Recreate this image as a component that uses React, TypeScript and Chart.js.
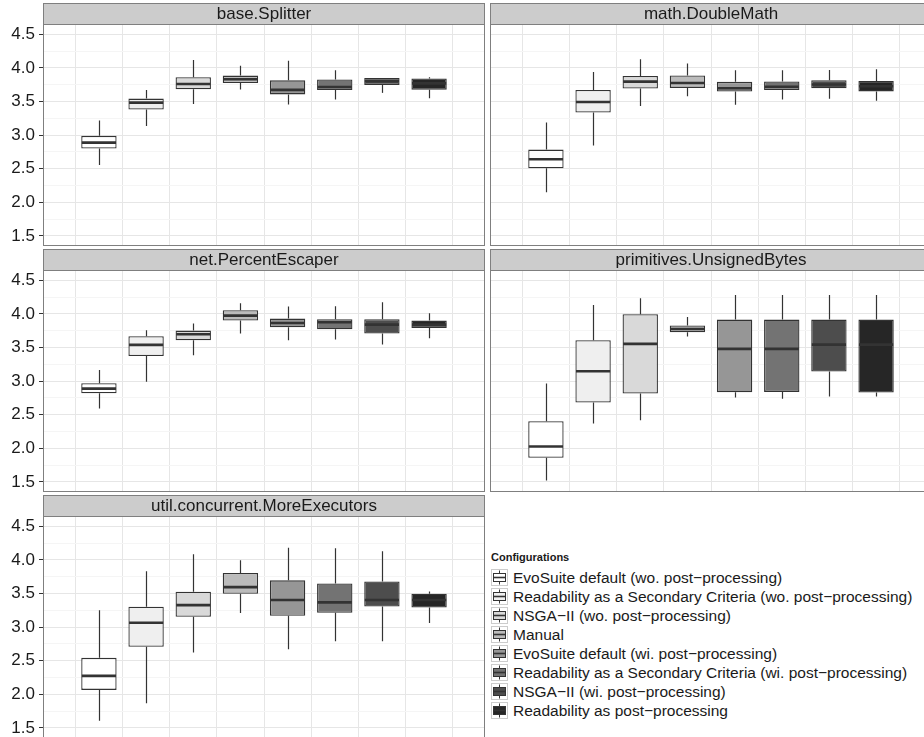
import React, { useEffect, useRef } from "react";
import { Chart, registerables } from "chart.js";

Chart.register(...registerables);
Chart.defaults.font.family = "'Liberation Sans', Arial, Helvetica, sans-serif";

// ---------- data ----------
const configurations = [
  "EvoSuite default (wo. post\u2212processing)",
  "Readability as a Secondary Criteria (wo. post\u2212processing)",
  "NSGA\u2212II (wo. post\u2212processing)",
  "Manual",
  "EvoSuite default (wi. post\u2212processing)",
  "Readability as a Secondary Criteria (wi. post\u2212processing)",
  "NSGA\u2212II (wi. post\u2212processing)",
  "Readability as post\u2212processing",
];
const legendTitle = "Configurations";
const fillColors = ["#FFFFFF", "#EFEFEF", "#D9D9D9", "#BBBBBB", "#969696", "#737373", "#4D4D4D", "#262626"];

// each entry: [min, q1, median, q3, max]
const baseSplitter = [
  [2.556, 2.799, 2.888, 2.988, 3.216],
  [3.136, 3.379, 3.483, 3.543, 3.672],
  [3.464, 3.682, 3.761, 3.860, 4.118],
  [3.680, 3.775, 3.830, 3.885, 4.030],
  [3.455, 3.605, 3.672, 3.814, 4.105],
  [3.530, 3.670, 3.715, 3.826, 3.965],
  [3.628, 3.747, 3.800, 3.849, 3.849],
  [3.549, 3.675, 3.770, 3.841, 3.860],
];
const mathDoubleMath = [
  [2.150, 2.507, 2.641, 2.784, 3.186],
  [2.844, 3.335, 3.493, 3.672, 3.940],
  [3.434, 3.693, 3.795, 3.878, 4.128],
  [3.576, 3.702, 3.774, 3.888, 4.066],
  [3.452, 3.648, 3.697, 3.792, 3.965],
  [3.529, 3.670, 3.720, 3.799, 3.965],
  [3.539, 3.695, 3.752, 3.816, 3.967],
  [3.509, 3.650, 3.727, 3.806, 3.980],
];
const netPercentEscaper = [
  [2.591, 2.819, 2.888, 2.968, 3.166],
  [2.988, 3.374, 3.538, 3.667, 3.756],
  [3.384, 3.607, 3.697, 3.751, 3.855],
  [3.707, 3.900, 3.974, 4.054, 4.158],
  [3.607, 3.801, 3.865, 3.930, 4.108],
  [3.617, 3.771, 3.875, 3.920, 4.113],
  [3.543, 3.707, 3.840, 3.920, 4.173],
  [3.637, 3.791, 3.840, 3.900, 4.009],
];
const primitivesUnsignedBytes = [
  [1.520, 1.857, 2.026, 2.403, 2.963],
  [2.368, 2.680, 3.146, 3.607, 4.133],
  [2.417, 2.814, 3.553, 3.994, 4.232],
  [3.662, 3.726, 3.776, 3.826, 3.955],
  [2.755, 2.834, 3.479, 3.915, 4.282],
  [2.735, 2.839, 3.479, 3.915, 4.282],
  [2.770, 3.141, 3.543, 3.915, 4.282],
  [2.770, 2.829, 3.543, 3.915, 4.282],
];
const utilConcurrentMoreExecutors = [
  [1.607, 2.065, 2.273, 2.542, 3.252],
  [1.866, 2.706, 3.064, 3.302, 3.829],
  [2.621, 3.153, 3.327, 3.526, 4.083],
  [3.208, 3.496, 3.595, 3.804, 3.993],
  [2.671, 3.168, 3.402, 3.695, 4.182],
  [2.790, 3.213, 3.367, 3.650, 4.172],
  [2.790, 3.307, 3.402, 3.680, 4.127],
  [3.059, 3.292, 3.402, 3.496, 3.531],
];
const yMajorTicks = [1.5, 2.0, 2.5, 3.0, 3.5, 4.0, 4.5];
const yMinorTicks = [1.75, 2.25, 2.75, 3.25, 3.75, 4.25];

const panelNames = [
  "base.Splitter",
  "math.DoubleMath",
  "net.PercentEscaper",
  "primitives.UnsignedBytes",
  "util.concurrent.MoreExecutors",
];
const panelStats = [baseSplitter, mathDoubleMath, netPercentEscaper, primitivesUnsignedBytes, utilConcurrentMoreExecutors];

// ---------- layout ----------
const Y_MIN = 1.349;
const Y_MAX = 4.653;
const STRIP_H = 21;
const PANEL_W = 442;
const PANEL_H = 222;
const AXIS_W = 43;
const ROW_TOPS = [3, 249, 495];
const RIGHT_COL_LEFT = 490;
const FONT = "'Liberation Sans', Arial, Helvetica, sans-serif";

function makeChart(canvas: HTMLCanvasElement, name: string, stats: number[][], showY: boolean) {
  const idx = stats.map((_, i) => i);
  const yTickValues = [...yMajorTicks, ...yMinorTicks].sort((a, b) => a - b);
  const isMajor = (v: number) => yMajorTicks.some((m) => Math.abs(m - v) < 1e-6);

  const stripPlugin = {
    id: "strip",
    beforeDraw(chart: any) {
      const { ctx, chartArea } = chart;
      ctx.save();
      ctx.fillStyle = "#CCCCCC";
      ctx.fillRect(chartArea.left, chartArea.top - STRIP_H, chartArea.right - chartArea.left, STRIP_H);
      ctx.fillStyle = "#FFFFFF";
      ctx.fillRect(chartArea.left, chartArea.top, chartArea.right - chartArea.left, chartArea.bottom - chartArea.top);
      ctx.strokeStyle = "#7F7F7F";
      ctx.lineWidth = 1;
      ctx.strokeRect(chartArea.left + 0.5, chartArea.top - STRIP_H + 0.5, chartArea.right - chartArea.left - 1, STRIP_H);
      ctx.fillStyle = "#1A1A1A";
      ctx.font = `17px ${FONT}`;
      ctx.textAlign = "center";
      ctx.textBaseline = "middle";
      ctx.fillText(name, (chartArea.left + chartArea.right) / 2, chartArea.top - STRIP_H / 2 + 1);
      ctx.restore();
    },
    afterDraw(chart: any) {
      const { ctx, chartArea } = chart;
      ctx.save();
      ctx.strokeStyle = "#7F7F7F";
      ctx.lineWidth = 1;
      ctx.strokeRect(chartArea.left + 0.5, chartArea.top + 0.5, chartArea.right - chartArea.left - 1, chartArea.bottom - chartArea.top - 1);
      ctx.restore();
    },
  };

  const boxPlugin = {
    id: "boxWhiskers",
    afterDatasetsDraw(chart: any) {
      const { ctx, chartArea } = chart;
      const xs = chart.scales.x;
      const ys = chart.scales.y;
      const meta = chart.getDatasetMeta(0);
      ctx.save();
      ctx.beginPath();
      ctx.rect(chartArea.left, chartArea.top, chartArea.right - chartArea.left, chartArea.bottom - chartArea.top);
      ctx.clip();
      stats.forEach((s, i) => {
        const el: any = meta.data[i];
        const x = Math.round(xs.getPixelForValue(i)) + 0.5;
        const half = el.width / 2;
        ctx.strokeStyle = "#333333";
        ctx.lineWidth = 1.2;
        ctx.beginPath();
        ctx.moveTo(x, ys.getPixelForValue(s[4]));
        ctx.lineTo(x, ys.getPixelForValue(s[3]));
        ctx.moveTo(x, ys.getPixelForValue(s[1]));
        ctx.lineTo(x, ys.getPixelForValue(s[0]));
        ctx.stroke();
        const my = ys.getPixelForValue(s[2]);
        ctx.lineWidth = 2.6;
        ctx.beginPath();
        ctx.moveTo(el.x - half + 0.6, my);
        ctx.lineTo(el.x + half - 0.6, my);
        ctx.stroke();
      });
      ctx.restore();
    },
  };

  return new Chart(canvas, {
    type: "bar",
    data: {
      datasets: [
        {
          label: name,
          data: stats.map((s, i) => ({ x: i, y: [s[1], s[3]] })) as any,
          backgroundColor: fillColors,
          borderColor: "#333333",
          borderWidth: 1.3,
          borderSkipped: false,
          barPercentage: 0.75,
          categoryPercentage: 1,
        } as any,
      ],
    },
    options: {
      animation: false,
      responsive: false,
      devicePixelRatio: 1,
      events: [],
      layout: { padding: { top: STRIP_H, right: 1, bottom: 1, left: showY ? 0 : 1 } },
      plugins: {
        legend: { display: false },
        tooltip: { enabled: false },
        title: { display: false },
      },
      scales: {
        x: {
          type: "linear",
          min: -0.6,
          max: 7.6,
          afterBuildTicks: (s: any) => {
            s.ticks = idx.map((v) => ({ value: v }));
          },
          afterFit: (s: any) => {
            s.height = 0;
            s.paddingLeft = 0;
            s.paddingRight = 0;
          },
          ticks: { display: false },
          grid: { color: "#E6E6E6", lineWidth: 1, drawTicks: false },
          border: { display: false },
        },
        y: {
          type: "linear",
          min: Y_MIN,
          max: Y_MAX,
          afterBuildTicks: (s: any) => {
            s.ticks = yTickValues.map((v) => ({ value: v }));
          },
          afterFit: (s: any) => {
            s.width = showY ? AXIS_W : 0;
            s.paddingTop = 0;
            s.paddingBottom = 0;
          },
          ticks: {
            display: showY,
            autoSkip: false,
            padding: 4,
            color: "#1A1A1A",
            font: { size: 17, family: FONT },
            callback: (v: any) => (isMajor(Number(v)) ? Number(v).toFixed(1) : ""),
          },
          grid: {
            color: (c: any) => (c.tick && isMajor(c.tick.value) ? "#E6E6E6" : "#F5F5F5"),
            lineWidth: 1,
            drawTicks: showY,
            tickLength: 4,
            tickColor: (c: any) => (c.tick && isMajor(c.tick.value) ? "#333333" : "rgba(0,0,0,0)"),
          },
          border: { display: false },
        },
      },
    } as any,
    plugins: [stripPlugin, boxPlugin],
  });
}

function Panel({ index }: { index: number }) {
  const ref = useRef<HTMLCanvasElement | null>(null);
  const col = index % 2;
  const row = Math.floor(index / 2);
  const showY = col === 0;
  const width = showY ? AXIS_W + PANEL_W + 1 : 1 + PANEL_W + 1;
  const height = STRIP_H + PANEL_H + 1;
  const left = showY ? 0 : RIGHT_COL_LEFT - 1;
  const top = ROW_TOPS[row];
  useEffect(() => {
    if (!ref.current) return;
    const chart = makeChart(ref.current, panelNames[index], panelStats[index], showY);
    return () => chart.destroy();
  }, [index, showY]);
  return (
    <canvas
      ref={ref}
      width={width}
      height={height}
      style={{ position: "absolute", left, top, width, height, display: "block" }}
    />
  );
}

function LegendKey({ color }: { color: string }) {
  return (
    <svg width={17} height={17} style={{ display: "block", flex: "0 0 auto" }}>
      <rect x={0.5} y={0.5} width={16} height={16} fill="#FFFFFF" stroke="#CCCCCC" strokeWidth={1} />
      <line x1={8.5} y1={1.5} x2={8.5} y2={15.5} stroke="#333333" strokeWidth={1} />
      <rect x={2.5} y={4.5} width={12} height={8} fill={color} stroke="#333333" strokeWidth={1} />
      <line x1={2.5} y1={8.5} x2={14.5} y2={8.5} stroke="#333333" strokeWidth={1.6} />
    </svg>
  );
}

export default function App() {
  return (
    <div
      style={{
        position: "fixed",
        left: 0,
        top: 0,
        width: 924,
        height: 737,
        overflow: "hidden",
        background: "#FFFFFF",
        fontFamily: FONT,
      }}
    >
      {panelNames.map((_, i) => (
        <Panel key={i} index={i} />
      ))}
      <div style={{ position: "absolute", left: 491, top: 551, color: "#1A1A1A" }}>
        <div style={{ fontSize: 11, fontWeight: "bold", lineHeight: "13px", marginBottom: 4 }}>{legendTitle}</div>
        {configurations.map((c, i) => (
          <div key={i} style={{ display: "flex", alignItems: "center", height: 19 }}>
            <LegendKey color={fillColors[i]} />
            <span style={{ fontSize: 15.5, marginLeft: 5, whiteSpace: "nowrap", lineHeight: "19px" }}>{c}</span>
          </div>
        ))}
      </div>
    </div>
  );
}
